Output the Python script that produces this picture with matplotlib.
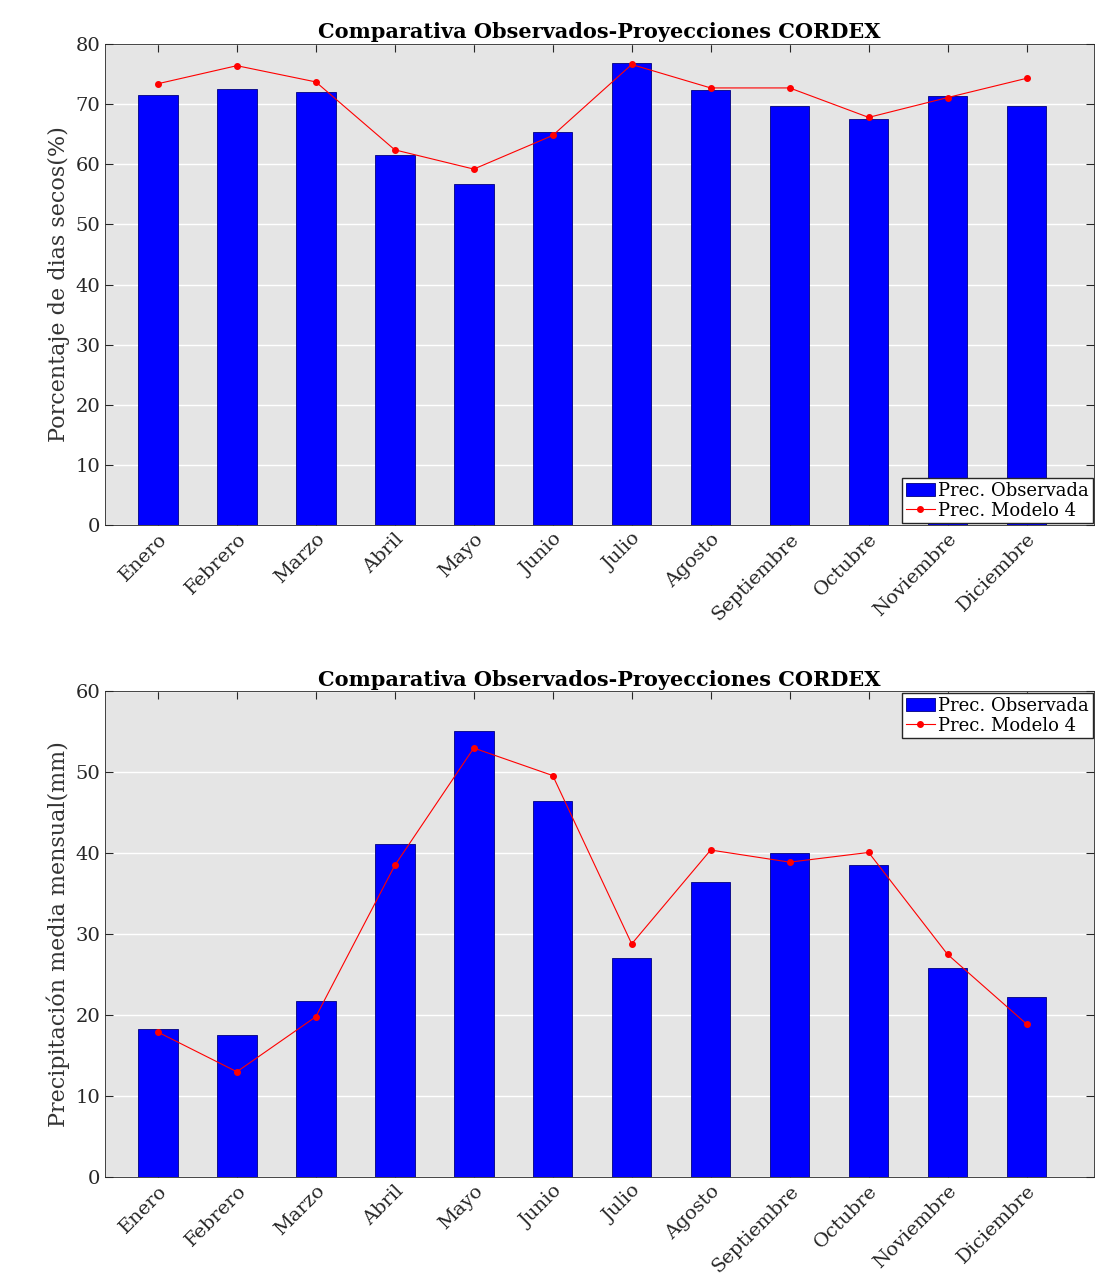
import numpy as np
from matplotlib import pyplot as plt

plt.rcParams['font.family'] = ['DejaVu Serif']

meses = ["Enero", "Febrero", "Marzo", "Abril", "Mayo", "Junio", "Julio",
         "Agosto", "Septiembre", "Octubre", "Noviembre", "Diciembre"]

secos_obs = [71.6, 72.5, 72.1, 61.5, 56.8, 65.3, 76.9, 72.3, 69.7, 67.5, 71.3, 69.7]
secos_mod = [73.4, 76.4, 73.7, 62.4, 59.2, 64.8, 76.6, 72.7, 72.7, 67.8, 71.1, 74.3]

prec_obs = [18.3, 17.6, 21.8, 41.2, 55.1, 46.5, 27.0, 36.4, 40.0, 38.5, 25.8, 22.3]
prec_mod = [17.9, 13.0, 19.8, 38.5, 53.0, 49.6, 28.8, 40.4, 38.9, 40.1, 27.5, 18.9]

fig = plt.figure(figsize=(10.97, 12.88), dpi=100)
ax1 = fig.add_axes([0.0957, 0.5924, 0.902, 0.3734])
ax2 = fig.add_axes([0.0957, 0.0862, 0.902, 0.377])

x = np.arange(1, 13)

def panel(ax, obs, mod, ylim, ylabel, loc):
    ax.set_facecolor('#e5e5e5')
    ax.set_axisbelow(True)
    ax.grid(True, axis='y', color='white', linewidth=1)
    b = ax.bar(x, obs, width=0.5, color='#0000ff', edgecolor='#000080', linewidth=0.6,
               label='Prec. Observada')
    l, = ax.plot(x, mod, '-o', color='red', linewidth=0.8, markersize=4, label='Prec. Modelo 4')
    ax.set_xlim(0.33, 12.86)
    ax.set_ylim(*ylim)
    ax.set_xticks(x)
    ax.set_xticklabels(meses, rotation=45, fontsize=14, ha='right',
                       rotation_mode='anchor', color='#333333')
    ax.tick_params(axis='y', labelsize=14, labelcolor='#333333')
    ax.tick_params(direction='in', top=True, right=True, length=6, colors='#262626')
    for s in ax.spines.values():
        s.set_color('#262626')
        s.set_linewidth(0.6)
    ax.set_ylabel(ylabel, fontsize=16, color='#333333')
    ax.set_title('Comparativa Observados-Proyecciones CORDEX', fontsize=15,
                 fontweight='bold', pad=4)
    ax.legend([b, l], ['Prec. Observada', 'Prec. Modelo 4'], loc=loc, fontsize=13,
              fancybox=False, framealpha=1, edgecolor='#262626', borderpad=0.2,
              handlelength=1.6, handletextpad=0.2, borderaxespad=0.1, labelspacing=0.1)

panel(ax1, secos_obs, secos_mod, (0, 80), 'Porcentaje de dias secos(%)', 'lower right')
panel(ax2, prec_obs, prec_mod, (0, 60), 'Precipitación media mensual(mm)', 'upper right')

fig.savefig('out.png', dpi=100)
